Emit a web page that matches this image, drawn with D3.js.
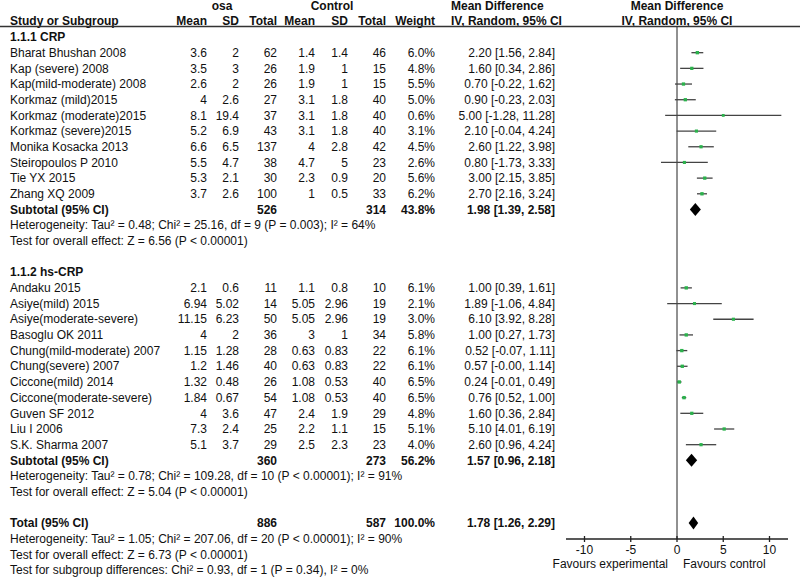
<!DOCTYPE html>
<html>
<head>
<meta charset="utf-8">
<script src="https://cdn.jsdelivr.net/npm/d3@7"></script>
<style>
  body { margin: 0; background: #fff; }
  svg text { font-family: "Liberation Sans", Arial, sans-serif; font-size: 12px; fill: #111; }
  .b { font-weight: bold; }
</style>
</head>
<body>
<svg id="chart" width="800" height="578"></svg>
<script>
// subgroup 1.1.1 CRP
var crpNames = ['Bharat Bhushan 2008', 'Kap (severe) 2008', 'Kap(mild-moderate) 2008', 'Korkmaz (mild)2015',
  'Korkmaz (moderate)2015', 'Korkmaz (severe)2015', 'Monika Kosacka 2013', 'Steiropoulos P 2010',
  'Tie YX 2015', 'Zhang XQ 2009'];
var crpOsaMean = ['3.6', '3.5', '2.6', '4', '8.1', '5.2', '6.6', '5.5', '5.3', '3.7'];
var crpOsaSD = ['2', '3', '2', '2.6', '19.4', '6.9', '6.5', '4.7', '2.1', '2.6'];
var crpOsaN = [62, 26, 26, 27, 37, 43, 137, 38, 30, 100];
var crpCtlMean = ['1.4', '1.9', '1.9', '3.1', '3.1', '3.1', '4', '4.7', '2.3', '1'];
var crpCtlSD = ['1.4', '1', '1', '1.8', '1.8', '1.8', '2.8', '5', '0.9', '0.5'];
var crpCtlN = [46, 15, 15, 40, 40, 40, 42, 23, 20, 33];
var crpWeight = [6.0, 4.8, 5.5, 5.0, 0.6, 3.1, 4.5, 2.6, 5.6, 6.2];
var crpMD = [2.20, 1.60, 0.70, 0.90, 5.00, 2.10, 2.60, 0.80, 3.00, 2.70];
var crpLo = [1.56, 0.34, -0.22, -0.23, -1.28, -0.04, 1.22, -1.73, 2.15, 2.16];
var crpHi = [2.84, 2.86, 1.62, 2.03, 11.28, 4.24, 3.98, 3.33, 3.85, 3.24];

// subgroup 1.1.2 hs-CRP
var hsNames = ['Andaku 2015', 'Asiye(mild) 2015', 'Asiye(moderate-severe)', 'Basoglu OK 2011',
  'Chung(mild-moderate) 2007', 'Chung(severe) 2007', 'Ciccone(mild) 2014', 'Ciccone(moderate-severe)',
  'Guven SF 2012', 'Liu I 2006', 'S.K. Sharma 2007'];
var hsOsaMean = ['2.1', '6.94', '11.15', '4', '1.15', '1.2', '1.32', '1.84', '4', '7.3', '5.1'];
var hsOsaSD = ['0.6', '5.02', '6.23', '2', '1.28', '1.46', '0.48', '0.67', '3.6', '2.4', '3.7'];
var hsOsaN = [11, 14, 50, 36, 28, 40, 26, 54, 47, 25, 29];
var hsCtlMean = ['1.1', '5.05', '5.05', '3', '0.63', '0.63', '1.08', '1.08', '2.4', '2.2', '2.5'];
var hsCtlSD = ['0.8', '2.96', '2.96', '1', '0.83', '0.83', '0.53', '0.53', '1.9', '1.1', '2.3'];
var hsCtlN = [10, 19, 19, 34, 22, 22, 40, 40, 29, 15, 23];
var hsWeight = [6.1, 2.1, 3.0, 5.8, 6.1, 6.1, 6.5, 6.5, 4.8, 5.1, 4.0];
var hsMD = [1.00, 1.89, 6.10, 1.00, 0.52, 0.57, 0.24, 0.76, 1.60, 5.10, 2.60];
var hsLo = [0.39, -1.06, 3.92, 0.27, -0.07, -0.00, -0.01, 0.52, 0.36, 4.01, 0.96];
var hsHi = [1.61, 4.84, 8.28, 1.73, 1.11, 1.14, 0.49, 1.00, 2.84, 6.19, 4.24];

// pooled results: [osaN, ctlN, weight, md, lo, hi]
var subtotalCrp = [526, 314, 43.8, 1.98, 1.39, 2.58];
var subtotalHs = [360, 273, 56.2, 1.57, 0.96, 2.18];
var totalAll = [886, 587, 100.0, 1.78, 1.26, 2.29];

var hetCrp = 'Heterogeneity: Tau\u00b2 = 0.48; Chi\u00b2 = 25.16, df = 9 (P = 0.003); I\u00b2 = 64%';
var effCrp = 'Test for overall effect: Z = 6.56 (P < 0.00001)';
var hetHs = 'Heterogeneity: Tau\u00b2 = 0.78; Chi\u00b2 = 109.28, df = 10 (P < 0.00001); I\u00b2 = 91%';
var effHs = 'Test for overall effect: Z = 5.04 (P < 0.00001)';
var hetAll = 'Heterogeneity: Tau\u00b2 = 1.05; Chi\u00b2 = 207.06, df = 20 (P < 0.00001); I\u00b2 = 90%';
var effAll = 'Test for overall effect: Z = 6.73 (P < 0.00001)';
var subDiff = 'Test for subgroup differences: Chi\u00b2 = 0.93, df = 1 (P = 0.34), I\u00b2 = 0%';

var ticks = [-10, -5, 0, 5, 10];

var svg = d3.select('#chart');

// scales
var x = d3.scaleLinear().domain([-12, 12]).range([566, 788]);
var row = d3.scaleLinear().domain([0, 1]).range([37, 52.68]);

// column right edges
var COLS = { om: 207, osd: 239, on: 277, cm: 315, csd: 348, cn: 386, w: 435, ci: 555 };
var GREEN = '#2bb24c';

function fmt(v) { return v.toFixed(2); }
function ciText(md, lo, hi) {
  var l = (lo === 0 || Object.is(lo, -0)) ? '-0.00' : fmt(lo);
  return fmt(md) + ' [' + l + ', ' + fmt(hi) + ']';
}

function txt(xp, yp, s, anchor, bold) {
  svg.append('text')
    .attr('x', xp).attr('y', yp)
    .attr('dy', '0.35em')
    .attr('text-anchor', anchor || 'start')
    .attr('class', bold ? 'b' : null)
    .text(s);
}

// header
txt(222, 6, 'osa', 'middle', true);
txt(332, 6, 'Control', 'middle', true);
txt(451, 6, 'Mean Difference', 'start', true);
txt(677, 6, 'Mean Difference', 'middle', true);
txt(10, 21, 'Study or Subgroup', 'start', true);
txt(COLS.om, 21, 'Mean', 'end', true);
txt(COLS.osd, 21, 'SD', 'end', true);
txt(COLS.on, 21, 'Total', 'end', true);
txt(COLS.cm, 21, 'Mean', 'end', true);
txt(COLS.csd, 21, 'SD', 'end', true);
txt(COLS.cn, 21, 'Total', 'end', true);
txt(COLS.w, 21, 'Weight', 'end', true);
txt(451, 21, 'IV, Random, 95% CI', 'start', true);
txt(677, 21, 'IV, Random, 95% CI', 'middle', true);

svg.append('line')
  .attr('x1', 0).attr('x2', 800).attr('y1', 26.5).attr('y2', 26.5)
  .attr('stroke', '#333').attr('stroke-width', 1.5);

// zero line
svg.append('line')
  .attr('x1', x(0)).attr('x2', x(0)).attr('y1', 27).attr('y2', 539)
  .attr('stroke', '#222').attr('stroke-width', 1);

var plot = svg.append('g');

function drawGroup(start, title, names, om, osd, on, cm, csd, cn, w, md, lo, hi, sub, het, eff) {
  txt(10, row(start), title, 'start', true);
  names.forEach(function(n, i) {
    var y = row(start + 1 + i);
    txt(10, y, n);
    txt(COLS.om, y, om[i], 'end');
    txt(COLS.osd, y, osd[i], 'end');
    txt(COLS.on, y, on[i], 'end');
    txt(COLS.cm, y, cm[i], 'end');
    txt(COLS.csd, y, csd[i], 'end');
    txt(COLS.cn, y, cn[i], 'end');
    txt(COLS.w, y, w[i].toFixed(1) + '%', 'end');
    txt(COLS.ci, y, ciText(md[i], lo[i], hi[i]), 'end');

    plot.append('line')
      .attr('x1', x(lo[i])).attr('x2', x(hi[i]))
      .attr('y1', y).attr('y2', y)
      .attr('stroke', '#444').attr('stroke-width', 1.3);
    var s = 2.6 + Math.sqrt(w[i]) * 0.3;
    plot.append('rect')
      .attr('x', x(md[i]) - s / 2).attr('y', y - s / 2)
      .attr('width', s).attr('height', s)
      .attr('fill', GREEN);
  });
  var ys = row(start + 1 + names.length);
  drawPooled(ys, 'Subtotal (95% CI)', sub);
  txt(10, row(start + 2 + names.length), het);
  txt(10, row(start + 3 + names.length), eff);
}

function drawPooled(y, label, p) {
  txt(10, y, label, 'start', true);
  txt(COLS.on, y, p[0], 'end', true);
  txt(COLS.cn, y, p[1], 'end', true);
  txt(COLS.w, y, p[2].toFixed(1) + '%', 'end', true);
  txt(COLS.ci, y, ciText(p[3], p[4], p[5]), 'end', true);
  var h = 6.5;
  plot.append('path')
    .attr('d', 'M' + x(p[4]) + ',' + y + 'L' + x(p[3]) + ',' + (y - h) +
      'L' + x(p[5]) + ',' + y + 'L' + x(p[3]) + ',' + (y + h) + 'Z')
    .attr('fill', '#000');
}

drawGroup(0, '1.1.1 CRP', crpNames, crpOsaMean, crpOsaSD, crpOsaN, crpCtlMean, crpCtlSD, crpCtlN,
  crpWeight, crpMD, crpLo, crpHi, subtotalCrp, hetCrp, effCrp);
drawGroup(15, '1.1.2 hs-CRP', hsNames, hsOsaMean, hsOsaSD, hsOsaN, hsCtlMean, hsCtlSD, hsCtlN,
  hsWeight, hsMD, hsLo, hsHi, subtotalHs, hetHs, effHs);

drawPooled(row(31), 'Total (95% CI)', totalAll);
txt(10, row(32), hetAll);
txt(10, row(33), effAll);
txt(10, row(34), subDiff);

// axis
var axisY = 539;
var axisG = svg.append('g').attr('transform', 'translate(0,' + axisY + ')');
axisG.append('line').attr('x1', 566).attr('x2', 788)
  .attr('stroke', '#222').attr('stroke-width', 1.3);
axisG.selectAll('.tk').data(ticks).enter().append('line')
  .attr('x1', function(d) { return x(d); }).attr('x2', function(d) { return x(d); })
  .attr('y1', -3).attr('y2', 3)
  .attr('stroke', '#222').attr('stroke-width', 1.3);
axisG.selectAll('.tl').data(ticks).enter().append('text')
  .attr('x', function(d) { return x(d); }).attr('y', 11)
  .attr('dy', '0.35em').attr('text-anchor', 'middle')
  .text(function(d) { return d; });

txt(668, 564, 'Favours experimental', 'end');
txt(683, 564, 'Favours control', 'start');
</script>
</body>
</html>
